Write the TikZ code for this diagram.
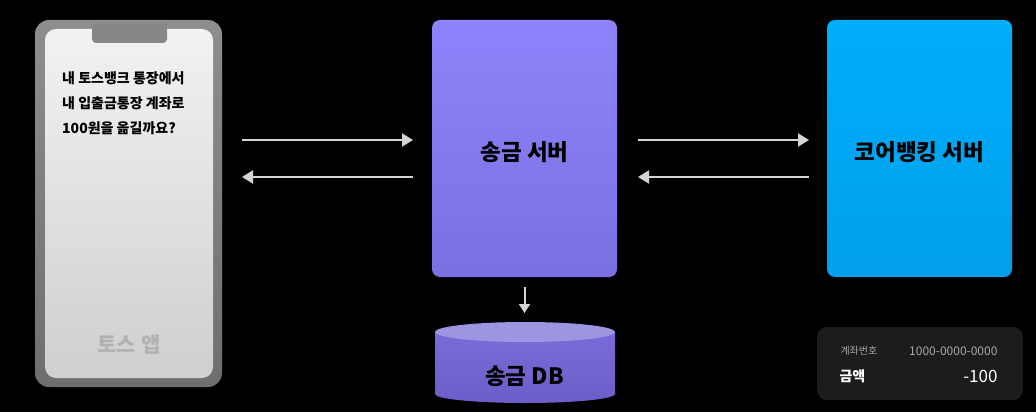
\documentclass[tikz,border=0pt]{standalone}
\usepackage{fontspec}
\setmainfont{Noto Sans CJK KR}
\usetikzlibrary{arrows.meta}
\definecolor{arrowgray}{HTML}{D4D4D4}
\definecolor{srvtop}{HTML}{8D84FB}
\definecolor{srvbot}{HTML}{7B70E2}
\definecolor{coretop}{HTML}{00AEFC}
\definecolor{corebot}{HTML}{009FEA}
\definecolor{dbtop}{HTML}{9C96E2}
\definecolor{dbbody}{HTML}{7A6CD8}
\definecolor{dbbot}{HTML}{6C5EC8}
\definecolor{cardbg}{HTML}{1C1C1C}
\definecolor{cardgray}{HTML}{A8A8A8}
\definecolor{phtop}{HTML}{8E8E8E}
\definecolor{phbot}{HTML}{6E6E6E}
\definecolor{scrtop}{HTML}{F2F2F2}
\definecolor{scrbot}{HTML}{CFCFCF}
\tikzset{
  flow/.style={draw=arrowgray, line width=2pt, -{Triangle[length=11pt,width=13pt]}},
  srvlabel/.style={font=\bfseries\fontsize{22.5}{26}\selectfont, text=black},
  phonetext/.style={font=\bfseries\fontsize{14}{25}\selectfont, text=black, align=left, anchor=north west, inner sep=0pt},
}
\begin{document}
\begin{tikzpicture}[x=1pt,y=-1pt]
\fill[black] (0,0) rectangle (1036,412);
\useasboundingbox (0,0) rectangle (1036,412);
% phone
\shade[top color=phtop, bottom color=phbot, rounded corners=14pt] (35,20) rectangle (222,387);
\shade[top color=scrtop, bottom color=scrbot, rounded corners=11pt] (45,29) rectangle (213,378);
\fill[phtop!95!black, rounded corners=4pt] (92,24) rectangle (167,43);
\fill[phtop!95!black] (92,24) rectangle (167,30);
\node[phonetext] (msg) at (62,71) {내 토스뱅크 통장에서\\내 입출금통장 계좌로\\100원을 옮길까요?};
\node[font=\bfseries\fontsize{21}{24}\selectfont, text=black!30] (app) at (129,345) {토스 앱};
\coordinate (phoneR1) at (242,140);
\coordinate (phoneR2) at (242,177);
% transfer server
\shade[top color=srvtop, bottom color=srvbot, rounded corners=8pt] (432,20) rectangle (617,277);
\node[srvlabel] (srv) at (524.5,152) {송금 서버};
\coordinate (srvL1) at (413,140);
\coordinate (srvL2) at (413,177);
\coordinate (srvR1) at (638,140);
\coordinate (srvR2) at (638,177);
\coordinate (srvB) at (524.5,287);
% core banking
\shade[top color=coretop, bottom color=corebot, rounded corners=8pt] (827,20) rectangle (1012,277);
\node[srvlabel] (core) at (919.5,152) {코어뱅킹 서버};
\coordinate (coreL1) at (809,140);
\coordinate (coreL2) at (809,177);
% arrows
\draw[flow] (phoneR1) -- (srvL1);
\draw[flow] (srvL2) -- (phoneR2);
\draw[flow] (srvR1) -- (coreL1);
\draw[flow] (coreL2) -- (srvR2);
% DB
\shade[top color=dbbody, bottom color=dbbot] (435,332) -- (435,394) arc[start angle=180, end angle=360, x radius=90, y radius=-9] -- (615,332) -- cycle;
\fill[dbtop] (525,332) ellipse[x radius=90, y radius=10];
\coordinate (dbT) at (524.5,313);
\draw[flow, -{Triangle[length=9pt,width=11pt]}] (srvB) -- (dbT);
\node[srvlabel] (db) at (524.5,376) {송금 DB};
% card
\fill[cardbg, rounded corners=10pt] (817,327) rectangle (1023,400);
\node[font=\fontsize{10}{12}\selectfont, text=cardgray, anchor=west] (acclbl) at (837,351) {계좌번호};
\node[font=\fontsize{12}{14}\selectfont, text=cardgray, anchor=east] (accnum) at (1001,351) {1000-0000-0000};
\node[font=\bfseries\fontsize{14}{16}\selectfont, text=white, anchor=west] (amtlbl) at (836,376) {금액};
\node[font=\fontsize{17}{20}\selectfont, text=white, anchor=east] (amt) at (1001,376) {-100};
\end{tikzpicture}
\end{document}
